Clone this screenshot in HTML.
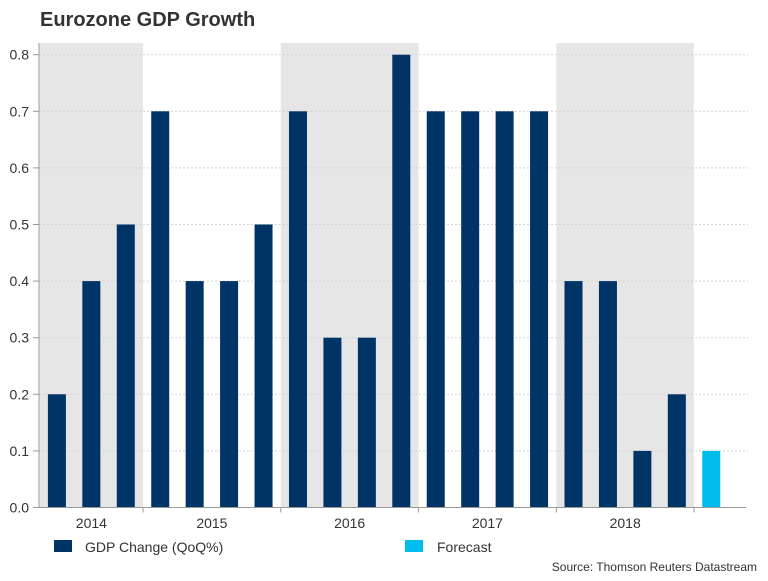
<!DOCTYPE html>
<html><head><meta charset="utf-8"><style>
body{margin:0;background:#fff;font-family:"Liberation Sans",sans-serif;}
svg text{font-family:"Liberation Sans",sans-serif;}
</style></head><body>
<svg width="768" height="576" xmlns="http://www.w3.org/2000/svg">
<text x="40" y="26" font-size="20" font-weight="bold" fill="#333">Eurozone GDP Growth</text>
<g id="bands"></g><g id="grid"></g><g id="bars"></g><g id="axes"></g>
<g>
<rect x="54" y="540" width="18" height="12" fill="#003366"/>
<text x="85" y="552" font-size="14" fill="#333">GDP Change (QoQ%)</text>
<rect x="405" y="540" width="18" height="12" fill="#00bdee"/>
<text x="437" y="552" font-size="14" fill="#333">Forecast</text>
</g>
<text x="757" y="571" font-size="12" fill="#333" text-anchor="end">Source: Thomson Reuters Datastream</text>
</svg>
<script>
const values=[0.2,0.4,0.5,0.7,0.4,0.4,0.5,0.7,0.3,0.3,0.8,0.7,0.7,0.7,0.7,0.4,0.4,0.1,0.2,0.1];
const isForecast=[0,0,0,0,0,0,0,0,0,0,0,0,0,0,0,0,0,0,0,1];
const years=["2014","2015","2016","2017","2018"];
const yearStart=[0,3,7,11,15];
const yearLen=[3,4,4,4,4];
const yTicks=[0,0.1,0.2,0.3,0.4,0.5,0.6,0.7,0.8];
const NS="http://www.w3.org/2000/svg";
const x0=39.7,slot=34.44,yBase=507.5,yScale=566;
const X=i=>x0+i*slot, Y=v=>yBase-v*yScale;
function mk(t,a,p){const e=document.createElementNS(NS,t);for(const k in a)e.setAttribute(k,a[k]);document.getElementById(p).appendChild(e);return e;}
years.forEach((y,j)=>{
  if(j%2===0){const r=mk('rect',{x:X(yearStart[j]),y:43,width:yearLen[j]*slot,height:yBase-43,fill:'#e6e6e6'},'bands');
  
  }
  const t=mk('text',{x:X(yearStart[j]+yearLen[j]/2),y:528,'font-size':14,fill:'#333','text-anchor':'middle'},'axes');t.textContent=y;
  
  
  if(j>0){const tk=mk('line',{x1:X(yearStart[j]),x2:X(yearStart[j]),y1:yBase,y2:yBase+5,stroke:'#999'},'axes');
  
  }
});
const lt=mk('line',{x1:X(19),x2:X(19),y1:yBase,y2:yBase+5,stroke:'#999'},'axes');


yTicks.forEach(v=>{
  if(v>0){const g=mk('line',{x1:39,x2:748,y1:Y(v),y2:Y(v),stroke:'#d4d4d4','stroke-dasharray':'2,2'},'grid');
  
  }
  const t=mk('text',{x:29,y:Y(v)+5,'font-size':14,fill:'#333','text-anchor':'end'},'axes');t.textContent=v.toFixed(1);
  
  
  const tk=mk('line',{x1:33,x2:39,y1:Y(v),y2:Y(v),stroke:'#999'},'axes');
  
  
});
values.forEach((v,i)=>{
  const r=mk('rect',{x:X(i)+8.2,y:Y(v),width:18,height:v*yScale,fill:isForecast[i]?'#00bdee':'#003366'},'bars');
  
  
});
const ya=mk('line',{x1:39,x2:39,y1:43,y2:yBase,stroke:'#999'},'axes');


const xa=mk('line',{x1:33,x2:746,y1:yBase,y2:yBase,stroke:'#999'},'axes');


</script>
</body></html>
